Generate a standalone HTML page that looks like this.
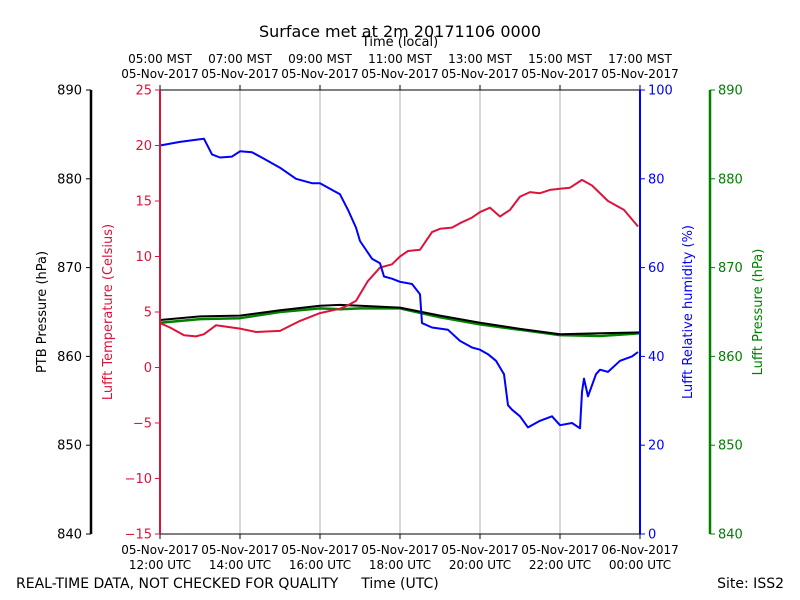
<!DOCTYPE html>
<html><head><meta charset="utf-8">
<style>
body{margin:0;background:#fff;}
svg{display:block;font-family:"DejaVu Sans","Liberation Sans",sans-serif;}
</style></head>
<body>
<svg id="chart" width="800" height="600" viewBox="0 0 800 600" xmlns="http://www.w3.org/2000/svg">
<rect width="800" height="600" fill="#fff"/>
<text x="400" y="37" text-anchor="middle" font-size="16">Surface met at 2m 20171106 0000</text>
<text x="400" y="46" text-anchor="middle" font-size="13">Time (local)</text>
<text x="16" y="588" font-size="14">REAL-TIME DATA, NOT CHECKED FOR QUALITY</text>
<text x="400" y="588" text-anchor="middle" font-size="14">Time (UTC)</text>
<text x="784" y="588" text-anchor="end" font-size="14">Site: ISS2</text>
<g id="grid"></g>
<g id="series"></g>
<g id="axes"></g>
</svg>
<script>
// time in hours since 12:00 UTC
const tempTimes=[0,0.25,0.6,0.9,1.1,1.4,2.0,2.4,3.0,3.5,4.0,4.5,4.7,4.9,5.2,5.5,5.8,6.0,6.2,6.5,6.8,7.0,7.3,7.5,7.8,8.0,8.25,8.5,8.75,9.0,9.25,9.5,9.75,10.0,10.25,10.55,10.8,11.2,11.6,11.95];
const tempValues=[4.0,3.6,2.9,2.8,3.0,3.8,3.5,3.2,3.3,4.2,4.9,5.3,5.6,6.0,7.8,9.0,9.3,10.0,10.5,10.6,12.2,12.5,12.6,13.0,13.5,14.0,14.4,13.6,14.2,15.4,15.8,15.7,16.0,16.1,16.2,16.9,16.4,15.0,14.2,12.7];
const rhTimes=[0,0.5,0.9,1.1,1.3,1.5,1.8,2.0,2.3,2.6,3.0,3.4,3.8,4.0,4.3,4.5,4.7,4.9,5.0,5.3,5.5,5.6,5.8,6.0,6.3,6.5,6.55,6.8,7.2,7.5,7.8,8.0,8.2,8.4,8.5,8.6,8.7,8.8,9.0,9.2,9.5,9.8,10.0,10.3,10.5,10.55,10.6,10.7,10.9,11.0,11.2,11.5,11.8,11.95];
const rhValues=[87.5,88.3,88.8,89.0,85.5,84.8,85.0,86.2,86.0,84.5,82.5,80.0,79.0,79.0,77.5,76.5,73.0,69.0,66.0,62.0,61.0,58.0,57.5,56.8,56.3,54.0,47.5,46.5,46.0,43.5,42.0,41.5,40.5,39.0,37.5,36.0,29.0,28.0,26.5,24.0,25.5,26.5,24.5,25.0,23.8,32.0,35.0,31.0,36.0,37.0,36.5,39.0,40.0,41.0];
const ptbTimes=[0,1,2,3,4,4.5,5,6,7,8,9,10,11,12];
const ptbValues=[864.1,864.5,864.6,865.2,865.7,865.8,865.7,865.5,864.6,863.8,863.1,862.5,862.6,862.7];
const lpTimes=[0,1,2,3,4,4.5,5,6,7,8,9,10,11,12];
const lpValues=[863.8,864.2,864.3,865.0,865.4,865.3,865.4,865.4,864.4,863.6,863.0,862.4,862.3,862.6];
const topLabels=["05:00 MST","07:00 MST","09:00 MST","11:00 MST","13:00 MST","15:00 MST","17:00 MST"];
const bottomLabels=["12:00 UTC","14:00 UTC","16:00 UTC","18:00 UTC","20:00 UTC","22:00 UTC","00:00 UTC"];
const bottomDates=["05-Nov-2017","05-Nov-2017","05-Nov-2017","05-Nov-2017","05-Nov-2017","05-Nov-2017","06-Nov-2017"];
const tempTicks=[-15,-10,-5,0,5,10,15,20,25];
const rhTicks=[0,20,40,60,80,100];
const presTicks=[840,850,860,870,880,890];

const NS="http://www.w3.org/2000/svg";
const L=160,R=640,T=90,B=534;
const x=h=>L+(h/12)*(R-L);
const yT=v=>B-(v+15)/40*(B-T);
const yRH=v=>B-v/100*(B-T);
const yP=v=>B-(v-840)/50*(B-T);
function el(tag,attrs,parent,txt){const e=document.createElementNS(NS,tag);for(const k in attrs)e.setAttribute(k,attrs[k]);if(txt!==undefined)e.textContent=txt;parent.appendChild(e);return e;}
const grid=document.getElementById('grid'),series=document.getElementById('series'),axes=document.getElementById('axes');

for(let i=0;i<7;i++){
  const xx=x(i*2);
  if(i>0&&i<6){const g=el('line',{x1:xx,x2:xx,y1:T,y2:B,stroke:'#b0b0b0','stroke-width':1},grid);
  
  }
  el('line',{x1:xx,x2:xx,y1:B,y2:B+5,stroke:'#000'},axes);
  el('line',{x1:xx,x2:xx,y1:T,y2:T-5,stroke:'#000'},axes);
  const t1=el('text',{x:xx,y:554,'text-anchor':'middle','font-size':12},axes,bottomDates[i]);
  
  
  const t2=el('text',{x:xx,y:569,'text-anchor':'middle','font-size':12},axes,bottomLabels[i]);
  
  
  const t3=el('text',{x:xx,y:63,'text-anchor':'middle','font-size':12},axes,topLabels[i]);
  
  
  const t4=el('text',{x:xx,y:78,'text-anchor':'middle','font-size':12},axes,"05-Nov-2017");
  
  
}

function line(ts,vs,yf,color,name,w){
  const d=ts.map((t,i)=>(i?'L':'M')+x(t).toFixed(1)+','+yf(vs[i]).toFixed(1)).join(' ');
  const p=el('path',{d:d,fill:'none',stroke:color,'stroke-width':w||2,'stroke-linejoin':'round'},series);
  
  
}
line(lpTimes,lpValues,yP,'#008000','lufft-pressure-line',2.5);
line(ptbTimes,ptbValues,yP,'#000','ptb-pressure-line',2);
line(tempTimes,tempValues,yT,'#dc143c','temperature-line',2);
line(rhTimes,rhValues,yRH,'#0000ff','humidity-line',2);

el('line',{x1:L,x2:R,y1:T,y2:T,stroke:'#000'},axes);
el('line',{x1:L,x2:R,y1:B,y2:B,stroke:'#000'},axes);
el('line',{x1:L,x2:L,y1:T,y2:B,stroke:'#dc143c','stroke-width':2},axes);
el('line',{x1:R,x2:R,y1:T,y2:B,stroke:'#0000ff','stroke-width':2},axes);
el('line',{x1:91,x2:91,y1:T,y2:B,stroke:'#000','stroke-width':2.5},axes);
el('line',{x1:710,x2:710,y1:T,y2:B,stroke:'#008000','stroke-width':2.5},axes);

tempTicks.forEach(v=>{const y=yT(v);el('line',{x1:L,x2:L-5,y1:y,y2:y,stroke:'#dc143c'},axes);
  const t=el('text',{x:L-8,y:y+4.5,'text-anchor':'end','font-size':13,fill:'#dc143c'},axes,v<0?'\u2212'+(-v):String(v));
  
  });
rhTicks.forEach(v=>{const y=yRH(v);el('line',{x1:R,x2:R+5,y1:y,y2:y,stroke:'#0000ff'},axes);
  const t=el('text',{x:R+8,y:y+4.5,'font-size':13,fill:'#0000ff'},axes,String(v));
  
  });
presTicks.forEach(v=>{const y=yP(v);el('line',{x1:91,x2:86,y1:y,y2:y,stroke:'#000'},axes);
  const t=el('text',{x:82,y:y+4.5,'text-anchor':'end','font-size':13},axes,String(v));
  
  
  el('line',{x1:710,x2:715,y1:y,y2:y,stroke:'#008000'},axes);
  const g=el('text',{x:718,y:y+4.5,'font-size':13,fill:'#008000'},axes,String(v));
  
  });

function vlabel(xx,txt,color,name){const t=el('text',{x:xx,y:312,'text-anchor':'middle','font-size':13,fill:color,transform:'rotate(-90 '+xx+' 312)'},axes,txt);
  
  }
vlabel(46,'PTB Pressure (hPa)','#000','ptb-axis-title');
vlabel(112,'Lufft Temperature (Celsius)','#dc143c','temp-axis-title');
vlabel(692,'Lufft Relative humidity (%)','#0000ff','rh-axis-title');
vlabel(762,'Lufft Pressure (hPa)','#008000','lufft-pressure-axis-title');
</script>
</body></html>
